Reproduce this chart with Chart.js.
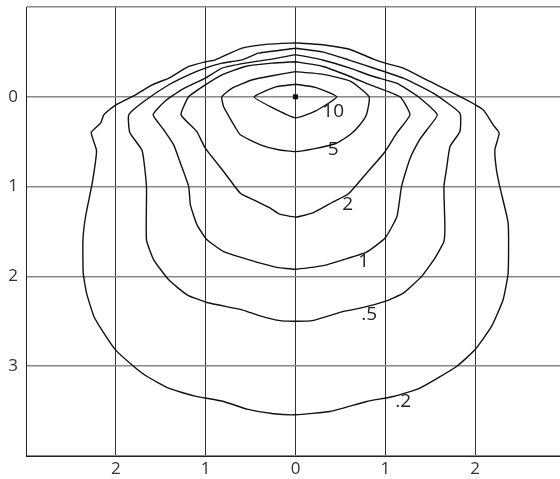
<!DOCTYPE html>
<html>
<head>
<meta charset="utf-8">
<script src="https://cdn.jsdelivr.net/npm/chart.js@4.4.1/dist/chart.umd.min.js"></script>
<style>
  html, body { margin: 0; padding: 0; background: #fff; overflow: hidden; }
  #wrap { width: 560px; height: 479px; overflow: hidden; }
</style>
</head>
<body>
<div id="wrap"><canvas id="contourChart" width="572" height="479"></canvas></div>
<script>
// contour levels and where their labels sit (data units)
const levels = ['10', '5', '2', '1', '.5', '.2'];
const labelX = [0.42, 0.42, 0.58, 0.76, 0.82, 1.2];
const labelY = [0.17, 0.585, 1.2, 1.83, 2.42, 3.39];

// tick labels (distance from the source, both sides)
const xTickLabels = { '-2': '2', '-1': '1', '0': '0', '1': '1', '2': '2' };
const yTickLabels = ['0', '1', '2', '3'];

// contour outlines, [x, y] pairs
const c10 = [[0,-0.14],[0.22,-0.105],[0.46,0],[0.22,0.16],[0,0.235],[-0.28,0.11],[-0.46,0],[-0.22,-0.11],[0,-0.14]];
const c5 = [[0,-0.28],[0.31,-0.25],[0.61,-0.175],[0.82,0],[0.79,0.2],[0.71,0.32],[0.61,0.42],[0.45,0.52],[0.2,0.58],[0,0.61],
  [-0.19,0.59],[-0.39,0.535],[-0.615,0.423],[-0.67,0.34],[-0.8,0.11],[-0.82,0],[-0.7,-0.1],[-0.48,-0.19],[-0.26,-0.235],[0,-0.28]];
const c2 = [[0,-0.39],[0.3,-0.34],[0.607,-0.226],[0.83,-0.133],[1.163,0],[1.274,0.2],[1.13,0.4],[0.99,0.62],[0.8,0.84],[0.59,1.08],
  [0.42,1.17],[0.2,1.29],[0,1.34],[-0.19,1.3],[-0.28,1.24],[-0.467,1.147],[-0.615,1.073],[-0.8,0.832],[-1.004,0.572],[-1.1,0.386],
  [-1.274,0.2],[-1.189,0],[-1.003,-0.133],[-0.818,-0.245],[-0.559,-0.338],[-0.263,-0.375],[0,-0.39]];
const c1 = [[0,-0.47],[0.3,-0.41],[0.607,-0.319],[0.867,-0.226],[1.126,-0.152],[1.367,0],[1.578,0.2],[1.46,0.37],[1.38,0.48],[1.27,0.7],
  [1.18,1.0],[1.13,1.33],[1.0,1.57],[0.79,1.73],[0.53,1.815],[0.31,1.88],[0,1.92],[-0.207,1.9],[-0.393,1.853],[-0.578,1.797],
  [-0.8,1.723],[-0.985,1.593],[-1.096,1.426],[-1.17,1.203],[-1.189,1.0],[-1.281,0.739],[-1.356,0.535],[-1.467,0.367],[-1.585,0.2],
  [-1.456,0.052],[-1.27,-0.078],[-1.003,-0.208],[-0.818,-0.319],[-0.559,-0.375],[-0.263,-0.42],[0,-0.47]];
const c05 = [[0,-0.54],[0.3,-0.5],[0.589,-0.412],[0.9,-0.31],[1.2,-0.208],[1.533,-0.04],[1.83,0.182],[1.83,0.386],[1.72,0.553],[1.68,0.813],
  [1.652,1.0],[1.663,1.444],[1.652,1.611],[1.552,1.797],[1.404,2.0],[1.2,2.187],[0.997,2.279],[0.719,2.354],[0.533,2.39],[0.2,2.49],
  [0,2.5],[-0.19,2.49],[-0.393,2.439],[-0.596,2.372],[-0.985,2.291],[-1.207,2.205],[-1.411,2.038],[-1.578,1.815],[-1.659,1.593],
  [-1.659,1.0],[-1.707,0.6],[-1.845,0.397],[-1.856,0.2],[-1.689,0.052],[-1.41,-0.134],[-1.189,-0.245],[-1.003,-0.32],[-0.818,-0.375],
  [-0.596,-0.412],[-0.41,-0.486],[0,-0.54]];
const c02 = [[0,-0.6],[0.3,-0.58],[0.6,-0.53],[0.867,-0.42],[1.0,-0.375],[1.2,-0.319],[1.496,-0.171],[1.867,0.015],[2.089,0.145],[2.2,0.312],
  [2.267,0.405],[2.219,0.59],[2.237,0.813],[2.274,1.0],[2.367,1.407],[2.367,1.963],[2.311,2.26],[2.182,2.557],[1.997,2.817],[1.793,3.003],
  [1.385,3.244],[1.089,3.337],[0.793,3.393],[0.385,3.504],[0,3.541],[-0.244,3.53],[-0.541,3.478],[-0.8,3.393],[-1.133,3.33],[-1.411,3.245],
  [-1.652,3.115],[-1.8,3.003],[-2.004,2.818],[-2.133,2.632],[-2.244,2.446],[-2.326,2.187],[-2.363,1.964],[-2.366,1.593],[-2.337,1.333],
  [-2.263,0.961],[-2.215,0.6],[-2.274,0.397],[-2.17,0.293],[-2.133,0.2],[-2.0,0.089],[-1.78,-0.022],[-1.596,-0.133],[-1.41,-0.208],
  [-1.189,-0.338],[-1.0,-0.39],[-0.892,-0.412],[-0.596,-0.542],[-0.3,-0.586],[0,-0.6]];
const contours = [c10, c5, c2, c1, c05, c02];

// source position
const sourceX = [0];
const sourceY = [0];

const tickFont = { family: 'Open Sans, sans-serif', size: 17 };

// level numbers next to the lines
const levelLabels = {
  id: 'levelLabels',
  afterDatasetsDraw(chart) {
    const { ctx, scales } = chart;
    ctx.save();
    ctx.fillStyle = '#222';
    ctx.font = '19px "Open Sans", sans-serif';
    ctx.textAlign = 'center';
    ctx.textBaseline = 'middle';
    levels.forEach((lv, i) => {
      ctx.fillText(lv, scales.x.getPixelForValue(labelX[i]), scales.y.getPixelForValue(labelY[i]));
    });
    ctx.restore();
  }
};

const datasets = contours.map((pts, i) => ({
  label: levels[i],
  data: pts.map(p => ({ x: p[0], y: p[1] })),
  showLine: true,
  borderColor: '#111',
  borderWidth: 1.4,
  pointRadius: 0,
  tension: 0.15,
  fill: false
}));
datasets.push({
  label: 'source',
  data: sourceX.map((x, i) => ({ x: x, y: sourceY[i] })),
  pointStyle: 'rect',
  pointRadius: 3.5,
  backgroundColor: '#111',
  borderColor: '#111',
  borderWidth: 0
});

new Chart(document.getElementById('contourChart'), {
  type: 'scatter',
  data: { datasets: datasets },
  options: {
    responsive: false,
    animation: false,
    layout: { padding: { top: 7, right: 7, left: 0, bottom: 0 } },
    plugins: {
      legend: { display: false },
      tooltip: { enabled: false }
    },
    scales: {
      x: {
        type: 'linear',
        min: -3,
        max: 3,
        afterFit: function(scale) {
          scale.height = 23;
          scale.paddingLeft = 0;
          scale.paddingRight = 0;
        },
        grid: { color: '#333', lineWidth: 1, drawTicks: false },
        border: { color: '#222', width: 1 },
        ticks: {
          stepSize: 1,
          autoSkip: false,
          padding: 3,
          color: '#333',
          font: tickFont,
          callback: function(value) {
            return xTickLabels[String(value)] || '';
          }
        }
      },
      y: {
        type: 'linear',
        reverse: true,
        min: -1,
        max: 4,
        afterFit: function(scale) {
          scale.width = 26;
          scale.paddingTop = 0;
          scale.paddingBottom = 0;
        },
        grid: { color: '#888', lineWidth: 1.5, drawTicks: false },
        border: { color: '#222', width: 1 },
        ticks: {
          stepSize: 1,
          autoSkip: false,
          padding: 8,
          color: '#333',
          font: tickFont,
          callback: function(value) {
            return (value >= 0 && value <= 3) ? yTickLabels[value] : '';
          }
        }
      }
    }
  },
  plugins: [levelLabels]
});
</script>
</body>
</html>
